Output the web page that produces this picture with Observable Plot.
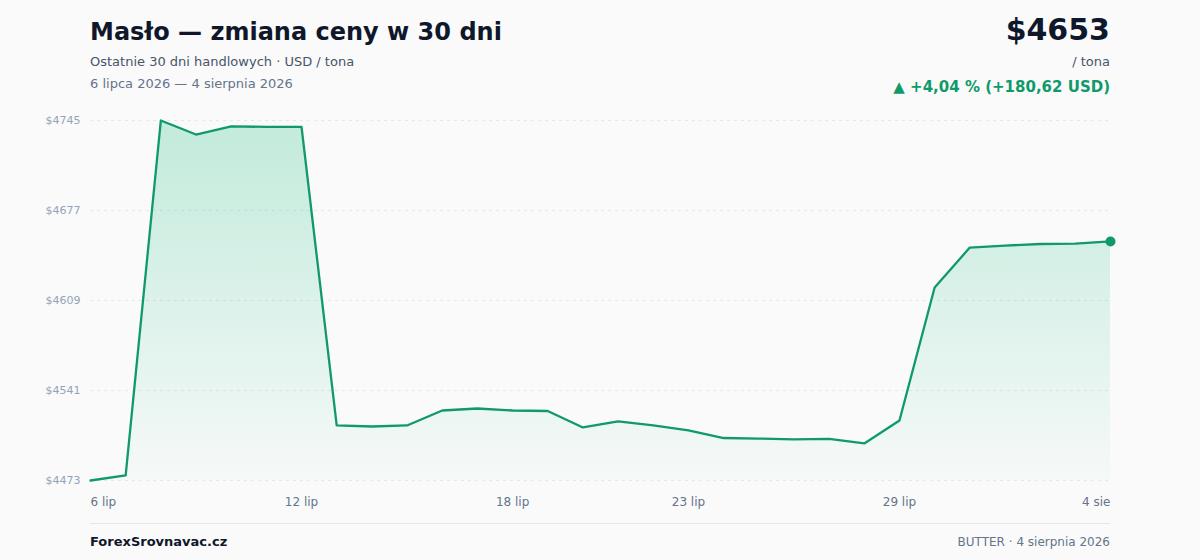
<!DOCTYPE html>
<html><head><meta charset="utf-8">
<script src="https://cdn.jsdelivr.net/npm/d3@7"></script>
<script src="https://cdn.jsdelivr.net/npm/@observablehq/plot@0.6"></script>
<style>
html,body{margin:0;padding:0;background:#fafafa;}
body{width:1200px;height:560px;position:relative;overflow:hidden;font-family:"DejaVu Sans",sans-serif;}
.t{position:absolute;white-space:nowrap;line-height:1;}
#chart{position:absolute;left:0;top:100px;}
</style></head><body>
<div class="t" style="left:90px;top:20px;font-size:24px;font-weight:bold;color:#0f172a;">Masło — zmiana ceny w 30 dni</div>
<div class="t" style="left:90px;top:55px;font-size:13px;color:#475569;">Ostatnie 30 dni handlowych · USD / tona</div>
<div class="t" style="left:90px;top:77px;font-size:13px;color:#64748b;">6 lipca 2026 — 4 sierpnia 2026</div>
<div class="t" style="right:90px;top:15px;font-size:30px;font-weight:bold;color:#0f172a;">$4653</div>
<div class="t" style="right:90px;top:55px;font-size:13px;color:#475569;">/ tona</div>
<div class="t" style="right:90px;top:80px;font-size:15px;font-weight:bold;color:#10996a;">▲ +4,04 % (+180,62 USD)</div>
<div id="chart"></div>
<div style="position:absolute;left:90px;top:523px;width:1020px;height:1px;background:#e5e7eb;"></div>
<div class="t" style="left:90px;top:535px;font-size:13px;font-weight:bold;color:#0f172a;">ForexSrovnavac.cz</div>
<div class="t" style="right:90px;top:536px;font-size:12px;color:#64748b;">BUTTER · 4 sierpnia 2026</div>
<script>
const dates = ["2026-07-06","2026-07-07","2026-07-08","2026-07-09","2026-07-10","2026-07-11","2026-07-12","2026-07-13","2026-07-14","2026-07-15","2026-07-16","2026-07-17","2026-07-18","2026-07-19","2026-07-20","2026-07-21","2026-07-22","2026-07-23","2026-07-24","2026-07-25","2026-07-26","2026-07-27","2026-07-28","2026-07-29","2026-07-30","2026-07-31","2026-08-01","2026-08-02","2026-08-03","2026-08-04"];
const prices = [4473,4476.8,4745,4734.4,4740.5,4740.2,4740.2,4514.6,4513.8,4514.6,4525.9,4527.4,4525.9,4525.5,4513.1,4517.6,4514.6,4510.8,4505.1,4504.7,4504.0,4504.4,4501.0,4518.3,4618.8,4649.0,4650.5,4651.7,4652.0,4653.6];
const yTicks = [4473,4541,4609,4677,4745];
const xTickDates = ["2026-07-06","2026-07-12","2026-07-18","2026-07-23","2026-07-29","2026-08-04"];
const xTickLabels = ["6 lip","12 lip","18 lip","23 lip","29 lip","4 sie"];

const data = dates.map((d,i)=>({date:new Date(d+"T00:00:00Z"), v:prices[i]}));
const xt = xTickDates.map(d=>new Date(d+"T00:00:00Z"));
const labelOf = d => xTickLabels[xt.findIndex(t=>+t===+d)];
const green = "#10996a";
const yMin = yTicks[0], yMax = yTicks[yTicks.length-1];
const axisStyle = {tickSize:0, tickPadding:0, fontSize:12, fill:"#64748b", dy:17, label:null};

const chart = Plot.plot({
  width:1200, height:420,
  marginLeft:90, marginRight:90, marginTop:20, marginBottom:40,
  style:{background:"transparent", fontFamily:"DejaVu Sans, sans-serif"},
  x:{type:"utc", domain:[data[0].date, data[data.length-1].date], label:null},
  y:{domain:[yMin,yMax], label:null},
  marks:[
    Plot.gridY(yTicks,{stroke:"#e2e8f0", strokeOpacity:1, strokeDasharray:"3,4"}),
    Plot.axisY({ticks:yTicks, tickFormat:d=>"$"+d, tickSize:0, tickPadding:10, fontSize:11, fill:"#94a3b8", label:null}),
    Plot.axisX({ticks:[xt[0]], tickFormat:labelOf, textAnchor:"start", ...axisStyle}),
    Plot.axisX({ticks:xt.slice(1,-1), tickFormat:labelOf, ...axisStyle}),
    Plot.axisX({ticks:[xt[xt.length-1]], tickFormat:labelOf, textAnchor:"end", ...axisStyle}),
    Plot.areaY(data,{x:"date", y1:()=>yMin, y2:"v", fill:"url(#areaGrad)"}),
    Plot.lineY(data,{x:"date", y:"v", stroke:green, strokeWidth:2.3}),
    Plot.dot([data[data.length-1]],{x:"date", y:"v", r:5, fill:green})
  ]
});
const ns="http://www.w3.org/2000/svg";
const defs=document.createElementNS(ns,"defs");
defs.innerHTML='<linearGradient id="areaGrad" x1="0" y1="0" x2="0" y2="1"><stop offset="0%" stop-color="#10b97a" stop-opacity="0.24"/><stop offset="100%" stop-color="#10b97a" stop-opacity="0.02"/></linearGradient>';
chart.insertBefore(defs, chart.firstChild);
document.getElementById("chart").appendChild(chart);
</script>
</body></html>
